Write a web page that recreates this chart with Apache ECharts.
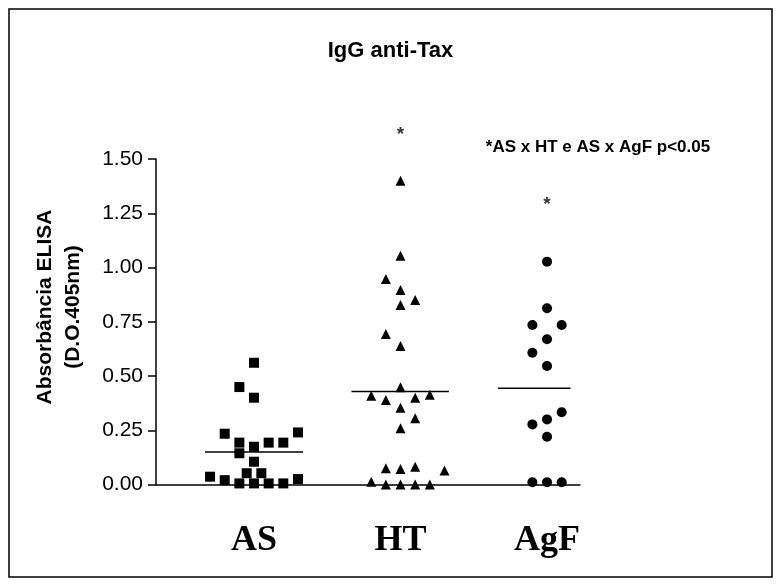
<!DOCTYPE html>
<html><head><meta charset="utf-8">
<script src="https://cdn.jsdelivr.net/npm/echarts@6/dist/echarts.min.js"></script>
<style>html,body{margin:0;padding:0;background:#fff}#c{width:781px;height:586px}</style>
</head><body><div id="c"></div>
<script>
const categories = ['AS', 'HT', 'AgF'];
const yTickLabels = ['0.00', '0.25', '0.50', '0.75', '1.00', '1.25', '1.50'];
// values; *Cols = jitter slot within each group
const asValues = [0.561, 0.449, 0.40, 0.234, 0.193, 0.174, 0.193, 0.193, 0.24, 0.144, 0.105, 0.036, 0.02, 0.005, 0.052, 0.005, 0.052, 0.005, 0.005, 0.025];
const asCols   = [0, -1, 0, -2, -1, 0, 1, 2, 3, -1, 0, -3, -2, -1, -0.5, 0, 0.5, 1, 2, 3];
const htValues = [1.40, 1.054, 0.947, 0.896, 0.85, 0.827, 0.693, 0.638, 0.448, 0.409, 0.389, 0.40, 0.414, 0.354, 0.305, 0.259, 0.075, 0.071, 0.082, 0.013, 0, 0, 0, 0, 0.064];
const htCols   = [0, 0, -1, 0, 1, 0, -1, 0, 0, -2, -1, 1, 2, 0, 1, 0, -1, 0, 1, -2, -1, 0, 1, 2, 3];
const agfValues = [1.027, 0.812, 0.735, 0.735, 0.669, 0.607, 0.546, 0.333, 0.30, 0.277, 0.22, 0.01, 0.01, 0.01];
const agfCols   = [0, 0, -1, 1, 0, -1, 0, 1, 0, -1, 0, -1, 0, 1];
const medians = [0.15, 0.428, 0.443];
const medianLeft = [-0.335, -0.335, -0.335];
const medianRight = [0.335, 0.33, 0.16];
const sigMarks = [{group: 1, y: 1.61}, {group: 2, y: 1.288}];
const annotation = '*AS x HT e AS x AgF p<0.05';

const COL = 0.1;
const groups = [
  {vals: asValues, cols: asCols, symbol: 'rect'},
  {vals: htValues, cols: htCols, symbol: 'triangle'},
  {vals: agfValues, cols: agfCols, symbol: 'circle'}
];
const series = [];
groups.forEach((g, gi) => {
  series.push({
    type: 'scatter', symbol: g.symbol, symbolSize: 10,
    itemStyle: {color: '#000', opacity: 1}, clip: false, silent: true,
    data: g.vals.map((v, i) => [gi + 1 + g.cols[i] * COL, v])
  });
  series.push({
    type: 'line', symbol: 'none', silent: true,
    lineStyle: {color: '#000', width: 1.5},
    data: [[gi + 1 + medianLeft[gi], medians[gi]], [gi + 1 + medianRight[gi], medians[gi]]]
  });
});
series.push({
  type: 'scatter', symbolSize: 0, clip: false, silent: true,
  label: {show: true, position: 'inside', formatter: '*', color: '#000', fontSize: 19, fontWeight: 'bold', fontFamily: 'Liberation Sans'},
  data: sigMarks.map(s => [s.group + 1, s.y])
});

const chart = echarts.init(document.getElementById('c'), null, {renderer: 'canvas'});
chart.setOption({
  animation: false,
  backgroundColor: '#fff',
  title: {text: 'IgG anti-Tax', left: 'center', top: 35,
    textStyle: {fontFamily: 'Liberation Sans', fontWeight: 'bold', fontSize: 22, color: '#000'}},
  grid: {left: 156, right: 201, top: 159, bottom: 101.5, containLabel: false},
  xAxis: {
    type: 'value', min: 0.331, max: 3.225,
    axisLine: {show: true, onZero: false, lineStyle: {color: '#000', width: 1.5}},
    axisTick: {show: false}, splitLine: {show: false},
    axisLabel: {
      customValues: [1, 2, 3], margin: 38,
      formatter: v => categories[Math.round(v) - 1] || '',
      fontFamily: 'Liberation Serif', fontWeight: 'bold', fontSize: 36, color: '#000'
    }
  },
  yAxis: {
    type: 'value', min: 0, max: 1.5, interval: 0.25,
    axisLine: {show: true, lineStyle: {color: '#000', width: 1.5}},
    axisTick: {show: true, length: 8, lineStyle: {color: '#000', width: 1.5}},
    splitLine: {show: false},
    axisLabel: {
      margin: 13, formatter: v => yTickLabels[Math.round(v / 0.25)],
      fontFamily: 'Liberation Sans', fontSize: 21, color: '#000'
    }
  },
  graphic: [
    {type: 'rect', shape: {x: 9, y: 9, width: 763, height: 568}, style: {fill: 'none', stroke: '#000', lineWidth: 1.5}, silent: true},
    {type: 'text', x: 45, y: 307, rotation: Math.PI / 2,
      style: {text: 'Absorbância ELISA', font: 'bold 21px "Liberation Sans"', fill: '#000', align: 'center', verticalAlign: 'middle'}},
    {type: 'text', x: 73, y: 307, rotation: Math.PI / 2,
      style: {text: '(D.O.405nm)', font: 'bold 21px "Liberation Sans"', fill: '#000', align: 'center', verticalAlign: 'middle'}},
    {type: 'text', x: 598, y: 147,
      style: {text: annotation, font: 'bold 17px "Liberation Sans"', fill: '#000', align: 'center', verticalAlign: 'middle'}}
  ],
  series: series
});
</script></body></html>
